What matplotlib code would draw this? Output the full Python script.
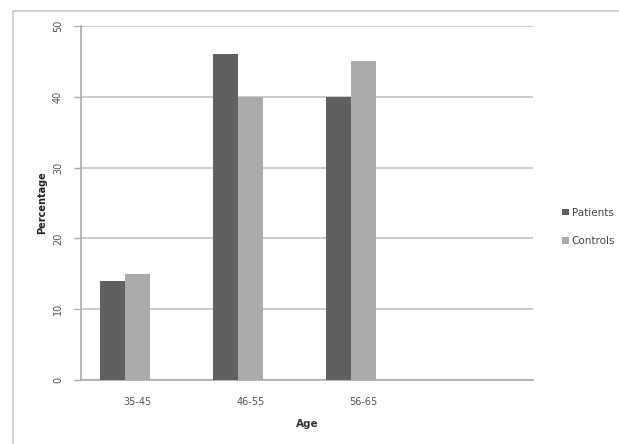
import matplotlib
matplotlib.use("Agg")
import matplotlib.pyplot as plt
import numpy as np
from matplotlib.patches import Rectangle

# Data
age_groups = ["35-45", "46-55", "56-65", ""]
patients = [14, 46, 40]
controls = [15, 40, 45]

PATIENT_COLOR = "#606060"
CONTROL_COLOR = "#ababab"
GRID_COLOR = "#c4c4c4"
TEXT_COLOR = "#555555"

fig = plt.figure(figsize=(6.19, 4.44), dpi=100)
fig.patch.set_facecolor("white")

# outer chart border (runs off the right and bottom edges)
fig.add_artist(Rectangle((13 / 619, -0.05), 1.5, 1 - 11 / 444 + 0.05,
                         transform=fig.transFigure, fill=False,
                         edgecolor="#c8c8c8", linewidth=1.2))

ax = fig.add_axes([81 / 619, 1 - 380 / 444, 452 / 619, 354 / 444])

w = 0.22
x = np.arange(len(patients))
ax.bar(x - w, patients, width=w, color=PATIENT_COLOR, label="Patients", zorder=3)
ax.bar(x, controls, width=w, color=CONTROL_COLOR, label="Controls", zorder=3)

ax.set_xlim(-0.5, len(age_groups) - 0.5)
ax.set_ylim(0, 50)
ax.set_yticks(np.arange(0, 51, 10))
ax.set_xticks(np.arange(len(age_groups)))
ax.set_xticklabels(age_groups, fontsize=7, color=TEXT_COLOR)
ax.tick_params(axis="x", length=0, pad=12)
ax.tick_params(axis="y", length=5, width=1, color="#aaaaaa", pad=8,
               labelsize=7, labelcolor=TEXT_COLOR, labelrotation=90)
for lbl in ax.get_yticklabels():
    lbl.set_va("center")

ax.grid(axis="y", color=GRID_COLOR, linewidth=1.2, zorder=0)
for side in ["top", "right"]:
    ax.spines[side].set_visible(False)
ax.spines["left"].set_color("#aaaaaa")
ax.spines["bottom"].set_color("#aaaaaa")
ax.spines["left"].set_linewidth(1.2)
ax.spines["bottom"].set_linewidth(1.2)

ax.set_ylabel("Percentage", fontsize=7, fontweight="bold", color="#222222", labelpad=4)
ax.set_xlabel("Age", fontsize=7.5, fontweight="bold", color="#333333", labelpad=9)

ax.legend(loc="center left", bbox_to_anchor=(553 / 619, 1 - 227 / 444),
          bbox_transform=fig.transFigure, frameon=False, fontsize=7.5,
          handlelength=0.6, handleheight=0.6, handletextpad=0.3,
          labelspacing=1.8, labelcolor="#444444")

fig.savefig("out.png", dpi=100)
